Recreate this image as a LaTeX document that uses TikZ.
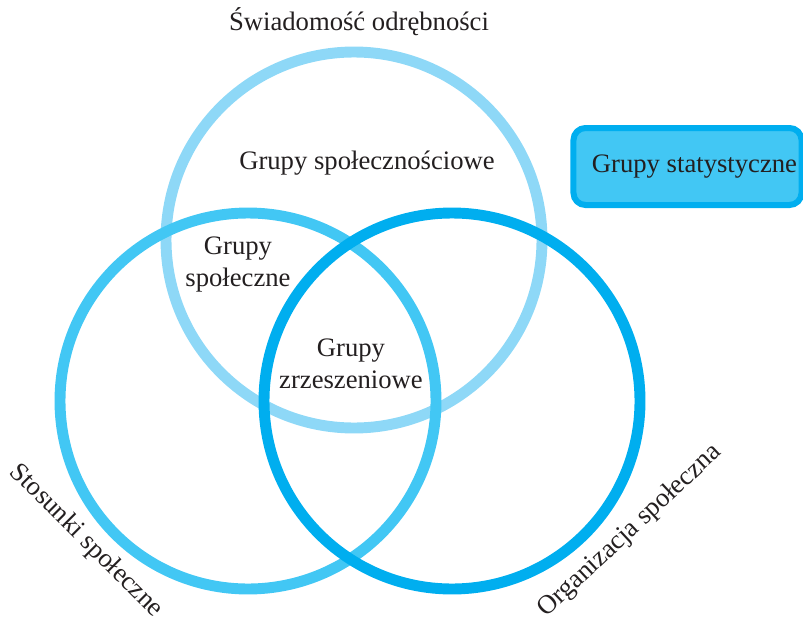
\documentclass[tikz,border=0pt]{standalone}
\usepackage{fontspec}
\setmainfont{Liberation Serif}
\usepackage{tikz}
\definecolor{paleblue}{RGB}{142,216,247}
\definecolor{midblue}{RGB}{66,199,244}
\definecolor{deepblue}{RGB}{0,174,239}
\definecolor{inktext}{RGB}{35,31,32}

\begin{document}
\begin{tikzpicture}[x=0.75pt,y=-0.75pt,text=inktext]
	\def \rad{282pt}
	\def \ring{8.2pt}
	\tikzstyle{c-node}=[circle,inner sep=0pt,minimum size=\rad,line width=\ring]
	\tikzstyle{g-node}=[align=center,font=\fontsize{20}{24}\selectfont]
	\tikzstyle{annot}=[font=\fontsize{20}{24}\selectfont]
	\useasboundingbox (0,0) rectangle (803,621);

	% circles
	\node[c-node,draw=paleblue] 	(swiad)	at (354,240)	{};
	\node[c-node,draw=midblue] 	(stos)	at (248,401)	{};
	\node[c-node,draw=deepblue] 	(org)	at (452,401)	{};

	% labels
	\node[annot] 	(swiadl)	at (359,22)		{Świadomość odrębności};
	\node[annot,rotate=-45] 	(stosl)	at (86,541)		{Stosunki społeczne};
	\node[annot,rotate=43] 	(orgl)	at (630,531)	{Organizacja społeczna};

	% groups
	\node[g-node] 	(gspn)	at (367,163)	{Grupy społecznościowe};
	\node[g-node] 	(gsp)	at (238,265)	{Grupy\\społeczne};
	\node[g-node] 	(gzrz)	at (351,364)	{Grupy\\zrzeszeniowe};

	% statistical groups
	\node[g-node,draw=deepblue,fill=midblue,line width=4.5pt,rounded corners=9pt,
		minimum width=168.75pt,minimum height=57.75pt] 	(gstat)	at (687.5,166.5)	{\hspace*{10.5pt}Grupy statystyczne};
\end{tikzpicture}
\end{document}
